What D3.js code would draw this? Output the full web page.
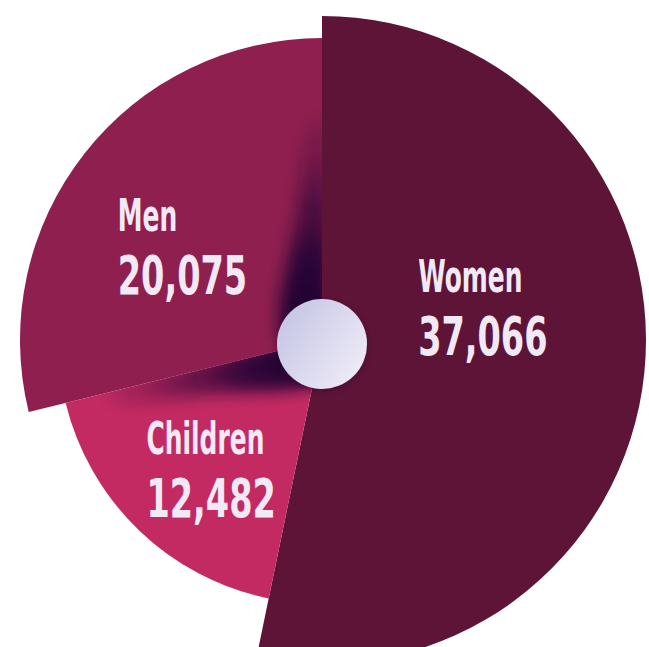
<!DOCTYPE html>
<html>
<head>
<meta charset="utf-8">
<script src="https://cdn.jsdelivr.net/npm/d3@7"></script>
<style>
  html, body { margin: 0; padding: 0; background: #fff; }
  svg { display: block; }
</style>
</head>
<body>
<div id="chart"></div>
<script>
"use strict";

// data
const categories = ["Women", "Children", "Men"];
const values = [37066, 12482, 20075];

const width = 649;
const height = 647;
const cx = 322;
const cy = 340;

const colors = d3.scaleOrdinal(categories, ["#5d1437", "#c42a62", "#8f1f4f"]);
const radius = d3.scaleOrdinal(categories, [324, 264, 302]);
// small hand nudges so the labels sit where they do in the original
const nudge = { Women: [-6, -51], Children: [6, 7], Men: [-7, 9] };

const rows = categories.map((c, i) => ({ name: c, value: values[i] }));

const svg = d3.select("#chart")
  .append("svg")
  .attr("width", width)
  .attr("height", height);

const defs = svg.append("defs");

const hubGrad = defs.append("linearGradient")
  .attr("id", "hubGrad")
  .attr("x1", "0%").attr("y1", "15%")
  .attr("x2", "100%").attr("y2", "85%");
hubGrad.append("stop").attr("offset", "0%").attr("stop-color", "#c4c3e4");
hubGrad.append("stop").attr("offset", "100%").attr("stop-color", "#f0eef8");

const shadeGrad = defs.append("radialGradient")
  .attr("id", "shadeGrad")
  .attr("gradientUnits", "userSpaceOnUse")
  .attr("cx", 0).attr("cy", 0).attr("r", 230);
shadeGrad.append("stop").attr("offset", "0%").attr("stop-color", "#1a0632").attr("stop-opacity", 1);
shadeGrad.append("stop").attr("offset", "35%").attr("stop-color", "#1a0632").attr("stop-opacity", 0.85);
shadeGrad.append("stop").attr("offset", "100%").attr("stop-color", "#1a0632").attr("stop-opacity", 0);

defs.append("filter")
  .attr("id", "blur")
  .attr("x", "-50%").attr("y", "-50%")
  .attr("width", "200%").attr("height", "200%")
  .append("feGaussianBlur")
  .attr("stdDeviation", 8);

const hubShadow = defs.append("filter")
  .attr("id", "hubShadow")
  .attr("x", "-50%").attr("y", "-50%")
  .attr("width", "200%").attr("height", "200%");
hubShadow.append("feDropShadow")
  .attr("dx", 0).attr("dy", 2)
  .attr("stdDeviation", 3)
  .attr("flood-color", "#2a0a2a")
  .attr("flood-opacity", 0.45);

const pie = d3.pie()
  .sort(null)
  .value(d => d.value);

const arcs = pie(rows);

const arc = d3.arc()
  .innerRadius(0)
  .outerRadius(d => radius(d.data.name));

const g = svg.append("g")
  .attr("transform", `translate(${cx},${cy})`);

// clip paths per slice, for the shading
arcs.forEach((d, i) => {
  defs.append("clipPath")
    .attr("id", "clip" + i)
    .append("path")
    .attr("d", arc(d));
});

g.selectAll("path.slice")
  .data(arcs)
  .join("path")
  .attr("class", "slice")
  .attr("fill", d => colors(d.data.name))
  .attr("d", arc);

// dark band of shadow along the end edge of Children and Men
const band = (a) => {
  const u = [Math.sin(a), -Math.cos(a)];
  const n = [-Math.cos(a), -Math.sin(a)]; // points back into the slice
  const p = (r, w) => [u[0] * r + n[0] * w, u[1] * r + n[1] * w];
  return [p(0, -8), p(230, -8), p(230, 14), p(120, 26), p(40, 42), p(0, 42)];
};

arcs.forEach((d, i) => {
  if (d.data.name === "Women") return;
  g.append("g")
    .attr("clip-path", `url(#clip${i})`)
    .append("path")
    .attr("fill", "url(#shadeGrad)")
    .attr("filter", "url(#blur)")
    .attr("d", d3.line()(band(d.endAngle)) + "Z");
});

// hub
svg.append("circle")
  .attr("cx", cx)
  .attr("cy", cy + 4)
  .attr("r", 45)
  .attr("fill", "url(#hubGrad)")
  .attr("filter", "url(#hubShadow)");

// labels
const labelArc = d3.arc()
  .innerRadius(168)
  .outerRadius(168);

const fmt = d3.format(",");
const fontStack = "'DejaVu Sans Condensed', 'DejaVu Sans', sans-serif";

const labels = svg.append("g")
  .selectAll("g")
  .data(arcs)
  .join("g")
  .attr("transform", d => {
    const [x, y] = labelArc.centroid(d);
    const n = nudge[d.data.name];
    return `translate(${cx + x + n[0] - 65},${cy + y + n[1]})`;
  });

labels.append("text")
  .attr("y", -14)
  .attr("fill", "#f1e9f6")
  .style("font-family", fontStack)
  .style("font-weight", "bold")
  .style("font-size", "44px")
  .text(d => d.data.name)
  .attr("textLength", function() { return this.getComputedTextLength() * 0.63; })
  .attr("lengthAdjust", "spacingAndGlyphs");

labels.append("text")
  .attr("y", 49)
  .attr("fill", "#f1e9f6")
  .style("font-family", fontStack)
  .style("font-weight", "bold")
  .style("font-size", "54px")
  .text(d => fmt(d.data.value))
  .attr("textLength", function() { return this.getComputedTextLength() * 0.69; })
  .attr("lengthAdjust", "spacingAndGlyphs");
</script>
</body>
</html>
